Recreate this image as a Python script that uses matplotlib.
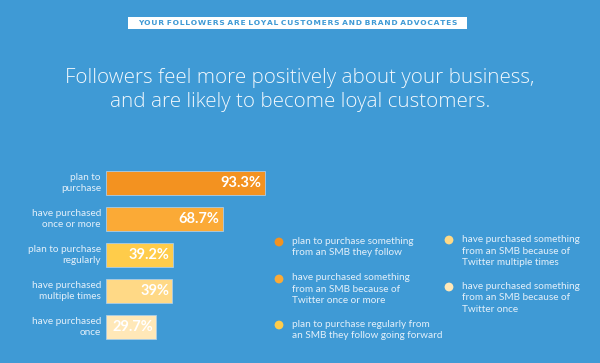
import matplotlib.pyplot as plt
from matplotlib.patches import Rectangle

bg = '#3f9ad5'

# data
labels = ['plan to\npurchase', 'have purchased\nonce or more', 'plan to purchase\nregularly',
          'have purchased\nmultiple times', 'have purchased\nonce']
values = [93.3, 68.7, 39.2, 39, 29.7]
value_text = ['93.3%', '68.7%', '39.2%', '39%', '29.7%']
colors = ['#f39220', '#fbaa36', '#ffcc4a', '#ffd986', '#ffe8b8']
legend_text = ['plan to purchase something\nfrom an SMB they follow',
               'have purchased something\nfrom an SMB because of\nTwitter once or more',
               'plan to purchase regularly from\nan SMB they follow going forward',
               'have purchased something\nfrom an SMB because of\nTwitter multiple times',
               'have purchased something\nfrom an SMB because of\nTwitter once']
banner = 'YOUR FOLLOWERS ARE LOYAL CUSTOMERS AND BRAND ADVOCATES'

plt.rcParams['font.family'] = ['Lato', 'DejaVu Sans']

fig = plt.figure(figsize=(6, 3.63), dpi=100, facecolor=bg)

# overlay in pixel coords for the decoration
ov = fig.add_axes([0, 0, 1, 1])
ov.set_xlim(0, 600)
ov.set_ylim(363, 0)
ov.axis('off')

# letter spaced banner text
spaced = ' '.join('\u200a'.join(w) for w in banner.split(' '))
ov.add_patch(Rectangle((128, 17), 339, 12, facecolor='white', edgecolor='none'))
ov.text(297.5, 23.3, spaced, ha='center', va='center', fontsize=5.4,
        fontweight='bold', color=bg, family='DejaVu Sans')

ov.text(300, 90, 'Followers feel more positively about your business,\nand are likely to become loyal customers.',
        ha='center', va='center', fontsize=14.8, color='#f2f8fd', fontweight='light',
        family=['Open Sans', 'DejaVu Sans'], linespacing=1.28)

# bars
ax = fig.add_axes([106 / 600, 1 - 345 / 363, 170 / 600, 180 / 363])
ax.set_facecolor('none')
ypos = range(len(values))
ax.barh(ypos, values, height=0.64, color=colors, edgecolor='#a9cde8', linewidth=0.6)
ax.set_xlim(0, 100)
ax.set_ylim(4.5, -0.5)
ax.axis('off')
for i in ypos:
    ax.text(-3, i, labels[i], ha='right', va='center', fontsize=7.2, color='#e4f0fa',
            linespacing=1.3)
    ax.text(values[i] - 1.8, i, value_text[i], ha='right', va='center', fontsize=10.5,
            fontweight='bold', color='white')

# legend
leg_pos = [(279, 242), (279, 279), (279, 325), (449, 240), (449, 287)]
leg_text_y = [247, 289, 330, 251, 298]
for k, (x, y) in enumerate(leg_pos):
    ov.scatter([x], [y], s=40, color=colors[k], edgecolors='none')
    ov.text(x + 13, leg_text_y[k], legend_text[k], ha='left', va='center', fontsize=7.2,
            color='#e4f0fa', linespacing=1.3)

fig.savefig('out.png', dpi=100, facecolor=bg)
